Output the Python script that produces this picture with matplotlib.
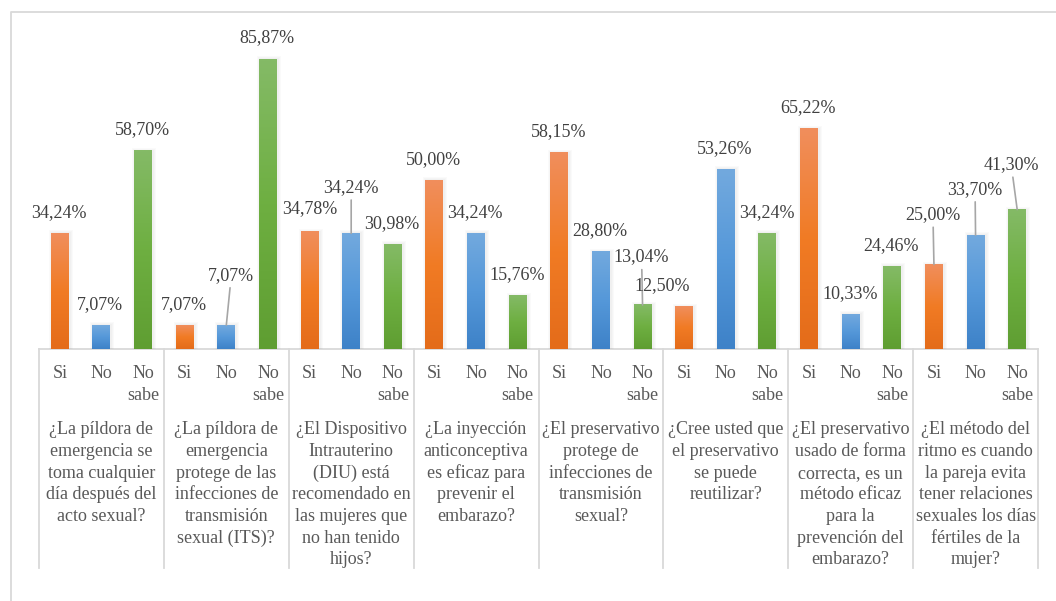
import numpy as np
import matplotlib.pyplot as plt
from matplotlib.colors import LinearSegmentedColormap
from matplotlib.lines import Line2D
from matplotlib.patches import Rectangle

plt.rcParams['font.family'] = ['Liberation Serif', 'DejaVu Serif']

# respuestas por pregunta (%)
preguntas = [
    "¿La píldora de\nemergencia se\ntoma cualquier\ndía después del\nacto sexual?",
    "¿La píldora de\nemergencia\nprotege de las\ninfecciones de\ntransmisión\nsexual (ITS)?",
    "¿El Dispositivo\nIntrauterino\n(DIU) está\nrecomendado en\nlas mujeres que\nno han tenido\nhijos?",
    "¿La inyección\nanticonceptiva\nes eficaz para\nprevenir el\nembarazo?",
    "¿El preservativo\nprotege de\ninfecciones de\ntransmisión\nsexual?",
    "¿Cree usted que\nel preservativo\nse puede\nreutilizar?",
    "¿El preservativo\nusado de forma\ncorrecta, es un\nmétodo eficaz\npara la\nprevención del\nembarazo?",
    "¿El método del\nritmo es cuando\nla pareja evita\ntener relaciones\nsexuales los días\nfértiles de la\nmujer?",
]
respuestas = ["Si", "No", "No\nsabe"]
si = [34.24, 7.07, 34.78, 50.00, 58.15, 12.50, 65.22, 25.00]
no = [7.07, 7.07, 34.24, 34.24, 28.80, 53.26, 10.33, 33.70]
no_sabe = [58.70, 85.87, 30.98, 15.76, 13.04, 34.24, 24.46, 41.30]
series = [si, no, no_sabe]

# degradado de cada serie: abajo, medio, arriba
colores = [
    ["#E46C1A", "#F17B24", "#F08E5C"],
    ["#3E82C8", "#5598D9", "#72A9DE"],
    ["#5F9E32", "#6EAF41", "#84BA66"],
]

# etiquetas desplazadas (pregunta, serie) -> (dx, dy, linea guia), en pixeles
desplazadas = {
    (1, 1): (5, 50, True),
    (2, 0): (0, 23, False),
    (2, 1): (0, 46, True),
    (4, 2): (-1, 48, True),
    (5, 0): (-22, 21, False),
    (7, 0): (-1, 50, True),
    (7, 1): (-0.5, 46, True),
    (7, 2): (-6, 45, True),
}

W, H = 1056, 601
px_x = 999 / 24.0      # pixeles por unidad en x
px_y = 337.7 / 100.0   # pixeles por punto porcentual

fig = plt.figure(figsize=(W / 100, H / 100), dpi=100)
ax = fig.add_axes([39 / W, (H - 349) / H, 999 / W, 337.7 / H])
ax.axis('off')

ancho = 18 / px_x
gris_linea = "#D9D9D9"

for g in range(len(preguntas)):
    for s in range(3):
        x = 3 * g + s
        v = series[s][g]
        # sombra suave, un poco hacia la derecha
        for k in (3, 2, 1):
            ax.add_patch(Rectangle((x - ancho / 2 - k / px_x + 1.0 / px_x, 0),
                                   ancho + 2 * k / px_x, v + k / px_y,
                                   facecolor='#7F7F7F', edgecolor='none',
                                   alpha=0.035, zorder=1))
        cmap = LinearSegmentedColormap.from_list('c', colores[s])
        grad = cmap(np.linspace(0, 1, 64))[:, :3].reshape(64, 1, 3)
        ax.imshow(grad, extent=[x - ancho / 2, x + ancho / 2, 0, v],
                  origin='lower', aspect='auto', interpolation='bilinear', zorder=2)

        dx, dy, guia = desplazadas.get((g, s), (-1, 21, False))
        texto = f"{v:.2f}%".replace('.', ',')
        props = None
        if guia:
            props = dict(arrowstyle='-', color='#A6A6A6', lw=1.2, shrinkA=1, shrinkB=0)
        ax.annotate(texto, xy=(x, v), xytext=(dx, dy), textcoords='offset pixels',
                    ha='center', va='center', fontsize=13, color='#404040',
                    arrowprops=props, zorder=3)

        # etiqueta de respuesta
        for i, linea in enumerate(respuestas[s].split('\n')):
            ax.annotate(linea, xy=(x, 0), xycoords=('data', 'axes fraction'),
                        xytext=(0, -29 - 22 * i), textcoords='offset pixels',
                        ha='center', va='baseline', fontsize=13, color='#595959',
                        annotation_clip=False)

    # texto de la pregunta
    for i, linea in enumerate(preguntas[g].split('\n')):
        ax.annotate(linea, xy=(3 * g + 1, 0), xycoords=('data', 'axes fraction'),
                    xytext=(0, -85.3 - 21.7 * i), textcoords='offset pixels',
                    ha='center', va='baseline', fontsize=13, color='#595959',
                    annotation_clip=False)

# separadores del eje de categorias
fondo = -(568 - 349) / 337.7
for g in range(len(preguntas) + 1):
    ax.plot([3 * g - 0.5, 3 * g - 0.5], [0, fondo], color=gris_linea, lw=1.3,
            transform=ax.get_xaxis_transform(), clip_on=False, zorder=0)
ax.plot([-0.5, 23.5], [0, 0], color=gris_linea, lw=1.3, clip_on=False, zorder=0)

ax.set_xlim(-0.5, 23.5)
ax.set_ylim(0, 100)

# borde del area del grafico
fig.add_artist(Line2D([10.5 / W, 10.5 / W, 1.0], [0, (H - 11.5) / H, (H - 11.5) / H],
                      transform=fig.transFigure, color=gris_linea, lw=1.3))

fig.savefig('out.png', dpi=100)
